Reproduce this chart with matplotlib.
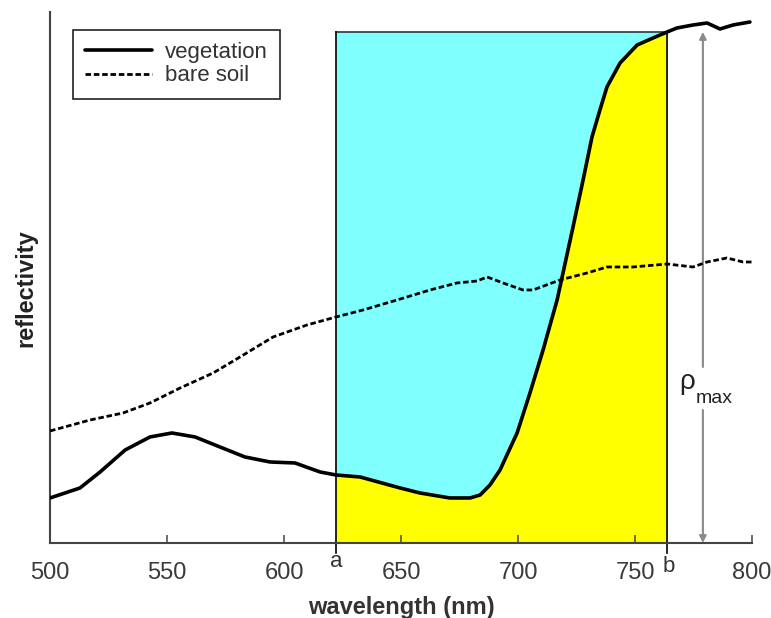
import matplotlib
matplotlib.use("Agg")
import matplotlib.pyplot as plt
import numpy as np

plt.rcParams["font.family"] = ["Liberation Sans", "DejaVu Sans"]

# vegetation spectrum (wavelength nm, reflectivity in arbitrary units)
veg_wl = [500, 512.8, 521.4, 532.1, 542.7, 552.1, 562.0, 572.6, 583.3, 594.0,
          604.7, 615.4, 622.2, 632.5, 649.6, 658.1, 670.9, 679.5, 683.8, 688.0,
          692.3, 699.6, 705.1, 710.7, 716.7, 723.5, 727.8, 731.6, 735.0, 738.0,
          743.6, 750.9, 757.7, 763.7, 767.9, 774.8, 780.8, 786.3, 791.9, 799.1]
veg_r = [4.5, 5.5, 7.1, 9.3, 10.6, 11.0, 10.6, 9.6, 8.6, 8.1,
         8.0, 7.1, 6.8, 6.6, 5.5, 5.0, 4.5, 4.5, 4.8, 5.8,
         7.3, 11.0, 15.0, 19.3, 24.3, 31.6, 36.3, 40.6, 43.3, 45.6,
         48.0, 49.8, 50.5, 51.1, 51.5, 51.8, 52.0, 51.4, 51.8, 52.1]

# bare soil spectrum
soil_wl = [500, 517.1, 531.2, 542.7, 555.6, 569.7, 581.2, 595.3, 609.8, 622.2,
           633.8, 648.3, 662.4, 673.9, 682.5, 686.8, 693.6, 702.1, 706.4, 717.9,
           729.5, 738.0, 749.1, 763.7, 774.8, 780.8, 789.3, 796.2, 800]
soil_r = [11.2, 12.3, 13.0, 14.0, 15.5, 17.0, 18.6, 20.6, 21.8, 22.6,
          23.3, 24.3, 25.3, 26.0, 26.2, 26.6, 26.0, 25.3, 25.3, 26.3,
          27.0, 27.6, 27.6, 27.9, 27.6, 28.1, 28.5, 28.1, 28.1]

wl_a = 622.2
wl_b = 763.7
r_top = 51.1
wl_rho = 779.0
xticks = [500, 550, 600, 650, 700, 750, 800]

fig = plt.figure(figsize=(7.71, 6.18), dpi=100)
ax = fig.add_axes([0.0649, 0.1214, 0.9105, 0.8592])

# band a..b : yellow under the vegetation curve, cyan above it
seg_x = [wl_a] + [w for w in veg_wl if wl_a < w < wl_b] + [wl_b]
seg_y = np.interp(seg_x, veg_wl, veg_r)
ax.fill_between(seg_x, 0, seg_y, color="#FFFF00", lw=0, zorder=1)
ax.fill_between(seg_x, seg_y, r_top, color="#80FFFF", lw=0, zorder=1)
ax.plot([wl_a, wl_b], [r_top, r_top], color="#1a3a3a", lw=1.2, zorder=2)
for w in (wl_a, wl_b):
    ax.plot([w, w], [-1.0, r_top], color="black", lw=1.2, zorder=2, clip_on=False)

ax.plot(veg_wl, veg_r, color="black", lw=2.6, zorder=4, label="vegetation",
        solid_joinstyle="round", solid_capstyle="round")
ax.plot(soil_wl, soil_r, color="black", lw=2.0, ls=(0, (2, 1)), zorder=4,
        label="bare soil")

# rho_max arrow with a gap for the label
arr = dict(arrowstyle="-|>", color="#8a8a8a", lw=1.5, mutation_scale=10,
           shrinkA=0, shrinkB=0)
ax.annotate("", xy=(wl_rho, r_top), xytext=(wl_rho, 17.6), arrowprops=arr)
ax.annotate("", xy=(wl_rho, 0), xytext=(wl_rho, 13.3), arrowprops=arr)
ax.text(772.4, 15.4, "ρ", fontsize=20, ha="center", va="baseline", color="#222222")
ax.text(775.8, 14.0, "max", fontsize=14, ha="left", va="baseline", color="#222222")

ax.text(wl_a, -0.034, "a", transform=ax.get_xaxis_transform(), fontsize=16,
        ha="center", va="center", color="#333333")
ax.text(wl_b + 0.8, -0.045, "b", transform=ax.get_xaxis_transform(), fontsize=16,
        ha="center", va="center", color="#333333")

ax.set_xlim(500, 800)
ax.set_ylim(0, 53.1)
ax.set_xticks(xticks)
ax.set_xticklabels([str(t) for t in xticks])
ax.set_yticks([])
ax.tick_params(axis="x", direction="in", length=6, width=1.2, color="#555555",
               labelsize=17, labelcolor="#3a3a3a", pad=14)
for s in ("top", "right"):
    ax.spines[s].set_visible(False)
for s in ("left", "bottom"):
    ax.spines[s].set_color("#444444")
    ax.spines[s].set_linewidth(1.5)

ax.set_xlabel("wavelength (nm)", fontsize=17, fontweight="bold", color="#333333",
              labelpad=8)
ax.set_ylabel("reflectivity", fontsize=17, fontweight="bold", color="#222222",
              labelpad=9, y=0.48)

leg = ax.legend(loc="upper left", bbox_to_anchor=(0.0328, 0.966), borderaxespad=0,
                fontsize=16, handlelength=3.0, handletextpad=0.6, labelspacing=0.1,
                borderpad=0.55, fancybox=False, framealpha=1)
leg.get_frame().set_edgecolor("#222222")
leg.get_frame().set_linewidth(1.2)
for t in leg.get_texts():
    t.set_color("#333333")

fig.savefig("out.png", dpi=100)
